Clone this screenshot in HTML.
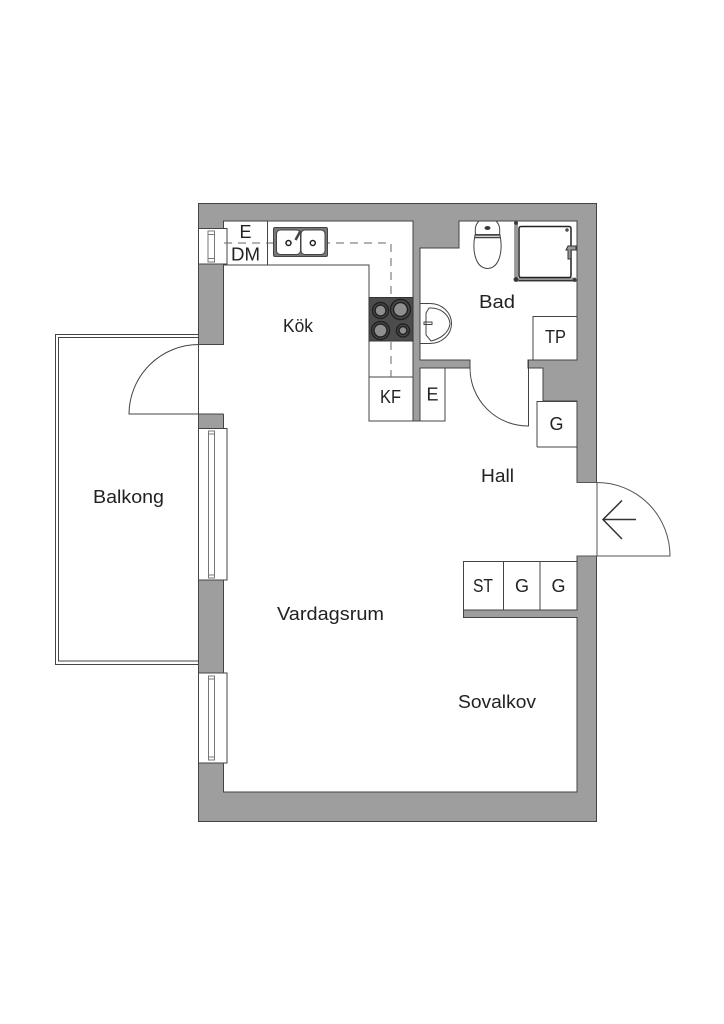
<!DOCTYPE html>
<html><head><meta charset="utf-8"><style>
html,body{margin:0;padding:0;background:#fff}
svg{display:block}
text{font-family:"Liberation Sans",sans-serif;font-size:18px;fill:#222;text-anchor:middle}
</style></head><body>
<svg width="724" height="1024" viewBox="0 0 724 1024" xmlns="http://www.w3.org/2000/svg">
<g fill="none" stroke="#444" stroke-width="1">
<!-- balcony -->
<path d="M198.5 334.5H55.5V664.5H198.5"/>
<path d="M198.5 337.5H58.5V661H198.5"/>
<!-- walls -->
<rect x="198.5" y="203.5" width="398" height="618" fill="#9e9e9e"/>
<path fill="#fff" d="M223.5 221H413V421H420V368H470V360H420V248H459V221H577V360H528V368H543V401H577V610H463.5V617.5H577V792H223.5Z"/>
<!-- right entrance -->
<rect x="575" y="483" width="22" height="72.500" fill="#fff" stroke="none"/>
<path d="M576.500 482.500H597M576.500 556H597M597 482.500V556H670A73 73.500 0 0 0 597 482.500" stroke="#555"/>
<path d="M636 519.500H603M622 500.500L603 519.500L622 539" stroke="#333" stroke-width="1.500"/>
<!-- left opening + door -->
<rect x="199" y="345" width="26" height="69" fill="#fff" stroke="none"/>
<path d="M198.500 344.500V414H129A70 70 0 0 1 198.500 344.500" stroke="#444"/>
<path d="M198.500 344.500H223.500M198.500 414H223.500"/>
<!-- windows -->
<g fill="#fff">
<rect x="198.500" y="228.500" width="28.500" height="35.500"/>
<rect x="198.500" y="428.500" width="28.500" height="151.500"/>
<rect x="198.500" y="673" width="28.500" height="90"/>
</g>
<g fill="#fff" stroke="#777">
<rect x="208" y="231" width="6.500" height="31"/>
<rect x="208.500" y="431" width="6" height="147"/>
<rect x="208.500" y="676" width="6" height="84"/>
</g>
<path d="M208 234.500H214.500M208 258.500H214.500M208.500 434H214.500M208.500 575H214.500M208.500 679H214.500M208.500 757H214.500" stroke="#777"/>
<!-- kitchen counter -->
<path d="M224 265H369V421H413M369 377H413M267.500 221V265"/>
<path d="M224 243H391V377" stroke="#666" stroke-dasharray="8 6"/>
<!-- closets -->
<path d="M420 421H445V368"/>
<path d="M533 360V316.500H577"/>
<path d="M537 447V401.500H577M537 447H577"/>
<path d="M463.500 610V561.500H577M503.500 561.500V610M540 561.500V610"/>
<!-- bathroom door -->
<path d="M528.500 360V426A58 58 0 0 1 470 368" stroke="#444"/>
<!-- hob -->
<rect x="369" y="297.500" width="44" height="43.500" fill="#4c4c4c" stroke="#333"/>
<g fill="#8f8f8f" stroke="#222" stroke-width="1.500">
<circle cx="380.500" cy="310.500" r="5.500"/><circle cx="400.500" cy="309.500" r="7"/>
<circle cx="380.500" cy="330.500" r="6.500"/><circle cx="403" cy="330.500" r="4"/>
</g>
<g stroke="#222" stroke-width="1.500">
<circle cx="380.500" cy="310.500" r="8"/><circle cx="400.500" cy="309.500" r="10"/>
<circle cx="380.500" cy="330.500" r="9"/><circle cx="403" cy="330.500" r="6.500"/>
</g>
<!-- kitchen sink -->
<rect x="273.500" y="227.500" width="54" height="29" rx="1.500" fill="#777"/>
<rect x="276.500" y="230" width="24" height="24.500" rx="4" fill="#fff"/>
<rect x="301" y="230" width="24" height="24.500" rx="4" fill="#fff"/>
<circle cx="288.500" cy="243" r="2.500" stroke="#222" stroke-width="1.500" fill="#fff"/>
<circle cx="312.800" cy="243" r="2.500" stroke="#222" stroke-width="1.500" fill="#fff"/>
<path d="M295.500 240L300.500 231" stroke="#444" stroke-width="2.500"/>
<!-- bathroom sink -->
<path d="M420 303.500H430A21.500 20 0 0 1 430 343.500H420"/>
<path d="M429 308H431C440 308 449 314 450 323.500C449 333 440 339 431 341L426 335V313Z"/>
<path d="M424 322H432V324.500H424Z"/>
<!-- toilet -->
<path d="M479 221C475 225 475 229 475.500 234.500H499.500C500 229 500 225 496 221"/>
<path d="M474.500 235H500.500M475 237.500H500" stroke-width="1.500"/>
<path d="M475 235C472 250 475 268 487.500 268.500C500 268 503 250 500 235"/>
<ellipse cx="487.500" cy="228" rx="2.500" ry="1.500" fill="#333"/>
<!-- shower -->
<path d="M515 221V281H576.500" stroke="#444" stroke-width="1"/>
<path d="M516.500 222V279H576" stroke="#999" stroke-width="3"/>
<rect x="519" y="226.500" width="52" height="51" rx="2" stroke="#222" stroke-width="1.500"/>
<path d="M519 280.500H576" stroke="#333"/>
<circle cx="516" cy="223" r="1.500" fill="#333"/><circle cx="516" cy="279.500" r="2" fill="#333"/><circle cx="574.500" cy="280" r="1.500" fill="#333"/><circle cx="567" cy="230" r="1.200" fill="#666"/>
<path d="M568 246H576V250H571V259H568V250H566Z" fill="#999" stroke="#333"/>
</g>
<!-- labels -->
<text x="298" y="332" textLength="30" lengthAdjust="spacingAndGlyphs">Kök</text>
<text x="497" y="308" textLength="36" lengthAdjust="spacingAndGlyphs">Bad</text>
<text x="497.500" y="482" textLength="33" lengthAdjust="spacingAndGlyphs">Hall</text>
<text x="128.500" y="503" textLength="71" lengthAdjust="spacingAndGlyphs">Balkong</text>
<text x="330.500" y="620" textLength="107" lengthAdjust="spacingAndGlyphs">Vardagsrum</text>
<text x="497" y="708" textLength="78" lengthAdjust="spacingAndGlyphs">Sovalkov</text>
<text x="245.500" y="238">E</text>
<text x="245.500" y="260.500" textLength="29" lengthAdjust="spacingAndGlyphs">DM</text>
<text x="390.500" y="403" textLength="21" lengthAdjust="spacingAndGlyphs">KF</text>
<text x="432.500" y="400.500">E</text>
<text x="555.500" y="343" textLength="21" lengthAdjust="spacingAndGlyphs">TP</text>
<text x="556.500" y="430">G</text>
<text x="483" y="592" textLength="20" lengthAdjust="spacingAndGlyphs">ST</text>
<text x="522" y="592">G</text>
<text x="558.500" y="592">G</text>
</svg>
</body></html>
